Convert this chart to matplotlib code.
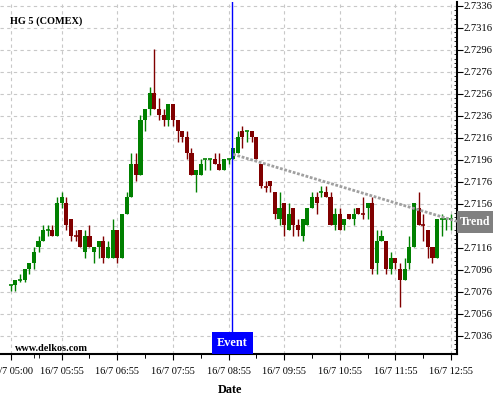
import matplotlib
matplotlib.use('Agg')
import matplotlib.pyplot as plt
from matplotlib.patches import Rectangle
from matplotlib.ticker import MultipleLocator, FixedLocator, FuncFormatter
import matplotlib.transforms as mtrans

plt.rcParams['font.family'] = ['Liberation Serif', 'DejaVu Serif']

# ---- data (5-minute candles, 16/7 05:00 .. 12:55) ----
opens = [2.7082, 2.7082, 2.7087, 2.7087, 2.7097, 2.7102, 2.7117, 2.7122, 2.7132, 2.7132,
         2.7127, 2.7157, 2.7157, 2.7142, 2.7127, 2.7132, 2.7112, 2.7127, 2.7112, 2.7117,
         2.7122, 2.7107, 2.7107, 2.7132, 2.7107, 2.7147, 2.7162, 2.7192, 2.7182, 2.7232,
         2.7242, 2.7257, 2.7242, 2.7237, 2.7232, 2.7247, 2.7232, 2.7222, 2.7217, 2.7202,
         2.7182, 2.7182, 2.7197, 2.7197, 2.7197, 2.7192, 2.7187, 2.7197, 2.7197, 2.7202,
         2.7222, 2.7222, 2.7222, 2.7217, 2.7192, 2.7172, 2.7177, 2.7167, 2.7142, 2.7157,
         2.7132, 2.7152, 2.7137, 2.7127, 2.7137, 2.7152, 2.7162, 2.7167, 2.7167, 2.7162,
         2.7137, 2.7147, 2.7137, 2.7147, 2.7142, 2.7152, 2.7147, 2.7152, 2.7157, 2.7102,
         2.7122, 2.7122, 2.7097, 2.7107, 2.7097, 2.7087, 2.7102, 2.7117, 2.7152, 2.7137,
         2.7132, 2.7117, 2.7107, 2.7142, 2.7142, 2.7142]
highs = [2.7082, 2.7087, 2.7092, 2.7097, 2.7102, 2.7117, 2.7127, 2.7137, 2.7137, 2.7137,
         2.7162, 2.7167, 2.7162, 2.7142, 2.7132, 2.7132, 2.7132, 2.7137, 2.7117, 2.7122,
         2.7127, 2.7122, 2.7142, 2.7132, 2.7147, 2.7167, 2.7202, 2.7202, 2.7237, 2.7242,
         2.7262, 2.7297, 2.7252, 2.7242, 2.7247, 2.7247, 2.7232, 2.7222, 2.7222, 2.7207,
         2.7187, 2.7197, 2.7197, 2.7197, 2.7202, 2.7202, 2.7197, 2.7197, 2.7207, 2.7222,
         2.7227, 2.7222, 2.7222, 2.7217, 2.7192, 2.7177, 2.7177, 2.7167, 2.7167, 2.7157,
         2.7157, 2.7152, 2.7142, 2.7142, 2.7152, 2.7167, 2.7167, 2.7172, 2.7172, 2.7167,
         2.7152, 2.7152, 2.7142, 2.7147, 2.7152, 2.7152, 2.7162, 2.7157, 2.7162, 2.7132,
         2.7132, 2.7122, 2.7112, 2.7107, 2.7102, 2.7107, 2.7127, 2.7157, 2.7167, 2.7147,
         2.7132, 2.7117, 2.7142, 2.7147, 2.7142, 2.7147]
lows = [2.7077, 2.7077, 2.7085, 2.7085, 2.7092, 2.7097, 2.7112, 2.7122, 2.7127, 2.7127,
        2.7127, 2.7152, 2.7132, 2.7122, 2.7122, 2.7117, 2.7107, 2.7117, 2.7102, 2.7107,
        2.7102, 2.7107, 2.7107, 2.7102, 2.7107, 2.7147, 2.7162, 2.7177, 2.7182, 2.7222,
        2.7237, 2.7242, 2.7232, 2.7227, 2.7227, 2.7227, 2.7212, 2.7212, 2.7197, 2.7182,
        2.7167, 2.7182, 2.7187, 2.7187, 2.7192, 2.7187, 2.7187, 2.7192, 2.7197, 2.7202,
        2.7207, 2.7212, 2.7212, 2.7197, 2.7170, 2.7167, 2.7167, 2.7142, 2.7137, 2.7127,
        2.7132, 2.7127, 2.7127, 2.7122, 2.7137, 2.7152, 2.7147, 2.7162, 2.7162, 2.7137,
        2.7132, 2.7132, 2.7132, 2.7142, 2.7137, 2.7147, 2.7142, 2.7142, 2.7092, 2.7092,
        2.7122, 2.7092, 2.7092, 2.7097, 2.7062, 2.7087, 2.7097, 2.7117, 2.7137, 2.7122,
        2.7107, 2.7102, 2.7107, 2.7127, 2.7132, 2.7132]
closes = [2.7082, 2.7087, 2.7087, 2.7097, 2.7102, 2.7112, 2.7122, 2.7132, 2.7132, 2.7127,
          2.7157, 2.7162, 2.7137, 2.7127, 2.7126, 2.7117, 2.7127, 2.7117, 2.7117, 2.7122,
          2.7107, 2.7117, 2.7132, 2.7107, 2.7147, 2.7162, 2.7192, 2.7182, 2.7232, 2.7242,
          2.7257, 2.7242, 2.7237, 2.7232, 2.7247, 2.7232, 2.7222, 2.7217, 2.7202, 2.7182,
          2.7187, 2.7192, 2.7197, 2.7197, 2.7192, 2.7187, 2.7197, 2.7197, 2.7207, 2.7217,
          2.7217, 2.7222, 2.7217, 2.7197, 2.7172, 2.7171, 2.7172, 2.7147, 2.7152, 2.7137,
          2.7147, 2.7137, 2.7132, 2.7142, 2.7152, 2.7162, 2.7157, 2.7167, 2.7162, 2.7137,
          2.7147, 2.7132, 2.7142, 2.7142, 2.7147, 2.7147, 2.7146, 2.7157, 2.7097, 2.7122,
          2.7127, 2.7097, 2.7107, 2.7102, 2.7087, 2.7097, 2.7117, 2.7157, 2.7137, 2.7136,
          2.7117, 2.7107, 2.7142, 2.7142, 2.7142, 2.7142]

tick_positions = [0, 11, 23, 35, 47, 59, 71, 83, 95]
tick_labels = ['16/7 05:00', '16/7 05:55', '16/7 06:55', '16/7 07:55', '16/7 08:55',
               '16/7 09:55', '16/7 10:55', '16/7 11:55', '16/7 12:55']
event_index = 48            # 16/7 09:00
trend_index = [48, 96.3]
trend_values = [2.7201, 2.7140]
title = 'HG 5 (COMEX)'

# ---- figure ----
fig = plt.figure(figsize=(5, 4), dpi=100)
ax = fig.add_axes([0.0, 0.115, 0.914, 0.88])
xmin, xmax = -2.31, 96.29
ymin, ymax = 2.70193, 2.73396
ax.set_xlim(xmin, xmax)
ax.set_ylim(ymin, ymax)

GREEN = '#008000'
RED = '#800000'
bw = 0.88
for i, (o, h, l, c) in enumerate(zip(opens, highs, lows, closes)):
    col = GREEN if c >= o else RED
    ax.vlines(i, l, h, color=col, lw=1.0, zorder=3)
    lo, hi = min(o, c), max(o, c)
    if hi - lo < 0.00015:
        ax.hlines((o + c) / 2, i - bw / 2, i + bw / 2, color=col, lw=1.2, zorder=4)
    else:
        ax.bar(i, hi - lo, bottom=lo, width=bw, color=col, edgecolor='none', zorder=4)

# trend
ax.plot(trend_index, trend_values, color='#a0a0a0', lw=2.0, ls=(0, (1, 0.6)),
        zorder=5, clip_on=False, solid_capstyle='butt')

# event line
ax.axvline(event_index - 0.15, color='#0000ff', lw=1.0, zorder=6)

# grid / ticks
yt = [2.7036 + 0.002 * k for k in range(16)]
# the "Trend" box covers the tick label nearest to the trend end
hidden = min(yt, key=lambda v: abs(v - trend_values[1]))
ax.yaxis.set_major_locator(FixedLocator(yt))
ax.yaxis.set_minor_locator(MultipleLocator(0.0004))
ax.yaxis.set_major_formatter(FuncFormatter(
    lambda v, p: '' if abs(v - hidden) < 1e-6 else f'{v:.4f}'))
ax.set_xticks(tick_positions)
ax.set_xticklabels(tick_labels)
ax.xaxis.set_minor_locator(FixedLocator([p + 6 for p in tick_positions] + [p - 6 for p in tick_positions]))
ax.grid(True, which='major', color='#c8c8c8', lw=0.8, ls=(0, (3, 3)), zorder=0)
ax.set_axisbelow(True)

for s in ['top', 'left']:
    ax.spines[s].set_visible(False)
ax.spines['right'].set_linewidth(1.5)
ax.spines['bottom'].set_linewidth(1.5)
ax.yaxis.tick_right()
ax.tick_params(axis='y', which='major', direction='out', length=4, width=0.8,
               labelsize=7.6, pad=1)
ax.tick_params(axis='y', which='minor', direction='in', length=2, width=0.6)
ax.tick_params(axis='x', which='major', direction='out', length=4, width=0.8,
               labelsize=7.4, pad=5)
ax.tick_params(axis='x', which='minor', direction='out', length=3, width=0.6)

# event box
tr = mtrans.blended_transform_factory(ax.transData, ax.transAxes)
ax.add_patch(Rectangle((event_index - 4.6, 0), 8.9, 22 / 352, transform=tr,
                       facecolor='#0000ff', edgecolor='none', zorder=7, clip_on=False))
ax.text(event_index - 0.2, 11 / 352, 'Event', transform=tr, color='white',
        fontsize=8.8, fontweight='bold', ha='center', va='center', zorder=8)

# trend label box
tr2 = mtrans.blended_transform_factory(ax.transAxes, ax.transData)
ax.add_patch(Rectangle((1.0, trend_values[1] - 0.0011), 36 / 457, 0.0020, transform=tr2,
                       facecolor='#808080', edgecolor='none', zorder=7, clip_on=False))
ax.text(1.0 + 18 / 457, trend_values[1] - 0.0001, 'Trend', transform=tr2, color='white',
        fontsize=8.6, fontweight='bold', ha='center', va='center', zorder=8)

fig.text(0.02, 0.948, title, fontsize=7.4, fontweight='bold', ha='left', va='center')
fig.text(0.03, 0.129, 'www.delkos.com', fontsize=7.4, fontweight='bold', ha='left', va='center')
fig.text(0.46, 0.025, 'Date', fontsize=8.8, fontweight='bold', ha='center', va='center')

fig.savefig('out.png', dpi=100)
